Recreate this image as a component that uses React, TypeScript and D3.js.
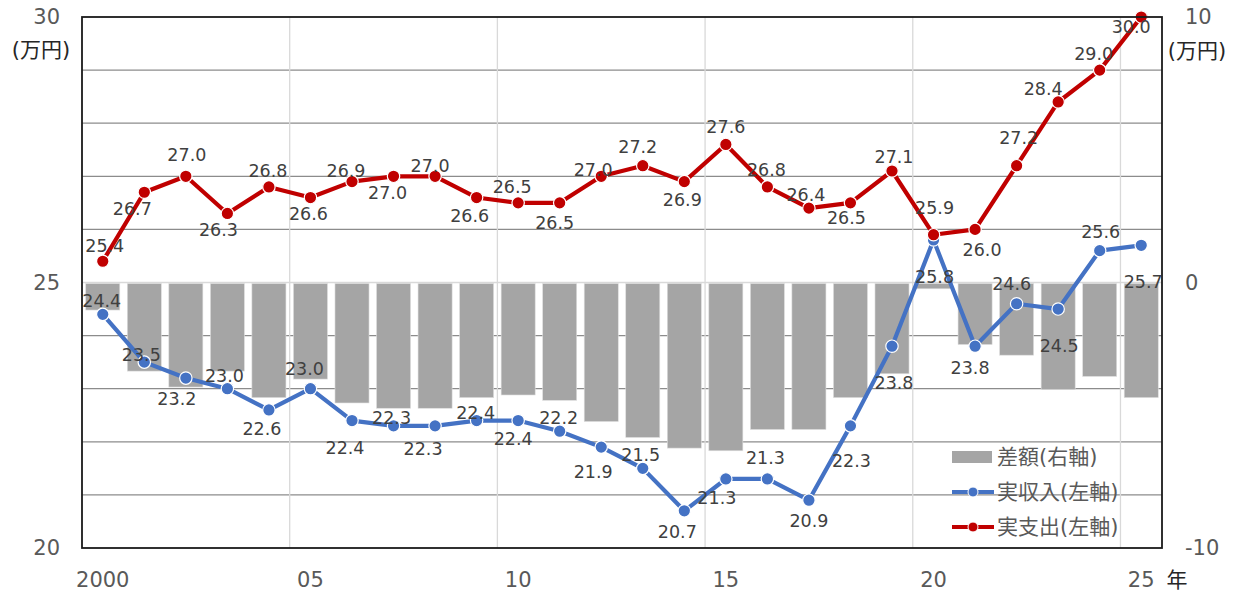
import React, { useRef, useEffect } from 'react';
import * as d3 from 'd3';

// 2000 - 2025
const years = [2000, 2001, 2002, 2003, 2004, 2005, 2006, 2007, 2008, 2009, 2010, 2011, 2012,
  2013, 2014, 2015, 2016, 2017, 2018, 2019, 2020, 2021, 2022, 2023, 2024, 2025];
const tickYears = [2000, 2005, 2010, 2015, 2020, 2025];
const tickText = ['2000', '05', '10', '15', '20', '25'];
const gridYears = [2005, 2010, 2015, 2020, 2025];

// 実収入 (left axis, 万円)
const income = [24.4, 23.5, 23.2, 23.0, 22.6, 23.0, 22.4, 22.3, 22.3, 22.4, 22.4, 22.2, 21.9,
  21.5, 20.7, 21.3, 21.3, 20.9, 22.3, 23.8, 25.8, 23.8, 24.6, 24.5, 25.6, 25.7];
// 実支出 (left axis, 万円)
const spending = [25.4, 26.7, 27.0, 26.3, 26.8, 26.6, 26.9, 27.0, 27.0, 26.6, 26.5, 26.5, 27.0,
  27.2, 26.9, 27.6, 26.8, 26.4, 26.5, 27.1, 25.9, 26.0, 27.2, 28.4, 29.0, 30.0];
// 差額 (right axis, 万円)
const diff = [-1.0, -3.3, -3.9, -3.3, -4.3, -3.6, -4.5, -4.7, -4.7, -4.3, -4.2, -4.4, -5.2,
  -5.8, -6.2, -6.3, -5.5, -5.5, -4.3, -3.4, -0.2, -2.3, -2.7, -4.0, -3.5, -4.3];

const leftTicks = [20, 25, 30];
const rightTicks = [-10, 0, 10];
const leftGrid = [21, 22, 23, 24, 26, 27, 28, 29];

// data label nudges [dx, dy] from the point (layout only)
const incomeLabelOffset = [[-1, -13], [-3, -7], [-9, 21], [-3, -13], [-7, 19], [-6, -20], [-7, 27],
  [-2, -8], [-12, 23], [-1, -8], [-5, 18], [-1, -13], [-8, 25], [-2, -13], [-7, 21], [-9, 19],
  [-2, -21], [0, 21], [1, 35], [2, 37], [1, 37], [-5, 22], [-5, -20], [1, 37], [1, -19], [2, 37]];
const spendLabelOffset = [[2, -15], [-12, 17], [1, -21], [-9, 17], [-1, -16], [-2, 16], [-6, -11],
  [-6, 17], [-5, -10], [-7, 18], [-6, -16], [-5, 20], [-8, -6], [-5, -19], [-2, 18], [0, -17],
  [-1, -17], [-3, -13], [-4, 15], [2, -14], [1, -27], [7, 21], [2, -28], [-15, -13], [-6, -16], [-10, 10]];

const BLUE = '#4472c4';
const RED = '#c00000';
const BAR = '#a5a5a5';
const FONT = '"DejaVu Sans", "Noto Sans CJK JP", sans-serif';

const App = () => {
  const svgRef = useRef<SVGSVGElement>(null);

  useEffect(() => {
    const width = 1236;
    const height = 594;
    const margin = { top: 17, right: 74, bottom: 46, left: 82 };

    const svg = d3.select(svgRef.current)
      .attr('width', width)
      .attr('height', height)
      .style('background', 'white')
      .style('font-family', FONT);
    svg.selectAll('*').remove();

    const x = d3.scaleBand<number>()
      .domain(years)
      .range([margin.left, width - margin.right])
      .paddingInner(0.18)
      .paddingOuter(0.09);
    const cx = (yr: number) => (x(yr) as number) + x.bandwidth() / 2;
    const yL = d3.scaleLinear().domain([20, 30]).range([height - margin.bottom, margin.top]);
    const yR = d3.scaleLinear().domain([-10, 10]).range([height - margin.bottom, margin.top]);

    // horizontal grid
    svg.append('g').selectAll('line')
      .data(leftGrid)
      .join('line')
      .attr('x1', margin.left).attr('x2', width - margin.right)
      .attr('y1', d => yL(d)).attr('y2', d => yL(d))
      .attr('stroke', '#8c8c8c').attr('stroke-width', 1.3);
    svg.append('line')
      .attr('x1', margin.left).attr('x2', width - margin.right)
      .attr('y1', yL(25)).attr('y2', yL(25))
      .attr('stroke', '#d9d9d9').attr('stroke-width', 1.3);

    // vertical grid at category boundaries
    svg.append('g').selectAll('line')
      .data(gridYears)
      .join('line')
      .attr('x1', d => cx(d) - x.step() / 2).attr('x2', d => cx(d) - x.step() / 2)
      .attr('y1', margin.top).attr('y2', height - margin.bottom)
      .attr('stroke', '#d9d9d9').attr('stroke-width', 1.3);

    // bars
    svg.append('g').selectAll('rect')
      .data(years)
      .join('rect')
      .attr('x', d => x(d) as number)
      .attr('width', x.bandwidth())
      .attr('y', (d, i) => Math.min(yR(0), yR(diff[i])) + 1)
      .attr('height', (d, i) => Math.abs(yR(diff[i]) - yR(0)))
      .attr('fill', BAR)
      .attr('stroke', '#e0e0e0')
      .attr('stroke-width', 0.6);

    const drawSeries = (vals: number[], color: string) => {
      const line = d3.line<number>()
        .x((d, i) => cx(years[i]))
        .y(d => yL(d));
      svg.append('path')
        .datum(vals)
        .attr('fill', 'none')
        .attr('stroke', color)
        .attr('stroke-width', 4.2)
        .attr('stroke-linejoin', 'round')
        .attr('d', line);
      svg.append('g').selectAll('circle')
        .data(vals)
        .join('circle')
        .attr('cx', (d, i) => cx(years[i]))
        .attr('cy', d => yL(d))
        .attr('r', 6.2)
        .attr('fill', color)
        .attr('stroke', 'white')
        .attr('stroke-width', 1.2);
    };
    drawSeries(income, BLUE);
    drawSeries(spending, RED);

    const drawLabels = (vals: number[], offs: number[][]) => {
      svg.append('g').selectAll('text')
        .data(vals)
        .join('text')
        .attr('x', (d, i) => cx(years[i]) + offs[i][0])
        .attr('y', (d, i) => yL(d) + offs[i][1])
        .attr('text-anchor', 'middle')
        .attr('dominant-baseline', 'central')
        .attr('fill', '#404040')
        .style('font-size', '17.5px')
        .text(d => d.toFixed(1));
    };
    drawLabels(income, incomeLabelOffset);
    drawLabels(spending, spendLabelOffset);

    // frame
    svg.append('rect')
      .attr('x', margin.left).attr('y', margin.top)
      .attr('width', width - margin.left - margin.right)
      .attr('height', height - margin.top - margin.bottom)
      .attr('fill', 'none')
      .attr('stroke', '#1a1a1a')
      .attr('stroke-width', 1.8);

    // axis labels
    svg.append('g').selectAll('text')
      .data(leftTicks)
      .join('text')
      .attr('x', 60).attr('y', d => yL(d))
      .attr('text-anchor', 'end').attr('dominant-baseline', 'central')
      .attr('fill', '#595959').style('font-size', '21px')
      .text(d => d);
    svg.append('g').selectAll('text')
      .data(rightTicks)
      .join('text')
      .attr('x', 1185).attr('y', d => yR(d))
      .attr('text-anchor', 'start').attr('dominant-baseline', 'central')
      .attr('fill', '#595959').style('font-size', '21px')
      .text(d => d);
    svg.append('g').selectAll('text')
      .data(tickYears)
      .join('text')
      .attr('x', d => cx(d)).attr('y', 580)
      .attr('text-anchor', 'middle').attr('dominant-baseline', 'central')
      .attr('fill', '#595959').style('font-size', '21px')
      .text((d, i) => tickText[i]);

    svg.append('text')
      .attr('x', 1177).attr('y', 580)
      .attr('text-anchor', 'middle').attr('dominant-baseline', 'central')
      .attr('fill', '#262626').style('font-size', '21px')
      .text('年');
    svg.append('text')
      .attr('x', 41).attr('y', 50)
      .attr('text-anchor', 'middle').attr('dominant-baseline', 'central')
      .attr('fill', '#262626').style('font-size', '21px')
      .text('(万円)');
    svg.append('text')
      .attr('x', 1197).attr('y', 51)
      .attr('text-anchor', 'middle').attr('dominant-baseline', 'central')
      .attr('fill', '#262626').style('font-size', '21px')
      .text('(万円)');

    // legend
    const legend = svg.append('g').attr('transform', 'translate(952,457)');
    legend.append('rect')
      .attr('x', 0).attr('y', -6).attr('width', 40).attr('height', 12)
      .attr('fill', BAR);
    legend.append('text')
      .attr('x', 45).attr('y', 0).attr('dominant-baseline', 'central')
      .attr('fill', '#595959').style('font-size', '21px')
      .text('差額(右軸)');
    [[BLUE, '実収入(左軸)'], [RED, '実支出(左軸)']].forEach(([color, label], i) => {
      const gy = 35 + i * 35;
      legend.append('line')
        .attr('x1', 0).attr('x2', 42).attr('y1', gy).attr('y2', gy)
        .attr('stroke', color).attr('stroke-width', 4);
      legend.append('circle')
        .attr('cx', 21).attr('cy', gy).attr('r', 5)
        .attr('fill', color).attr('stroke', 'white').attr('stroke-width', 1);
      legend.append('text')
        .attr('x', 45).attr('y', gy).attr('dominant-baseline', 'central')
        .attr('fill', '#595959').style('font-size', '21px')
        .text(label);
    });
  }, []);

  return (
    <div style={{ position: 'absolute', left: 0, top: 0, background: 'white' }}>
      <svg ref={svgRef}></svg>
    </div>
  );
};

export default App;
